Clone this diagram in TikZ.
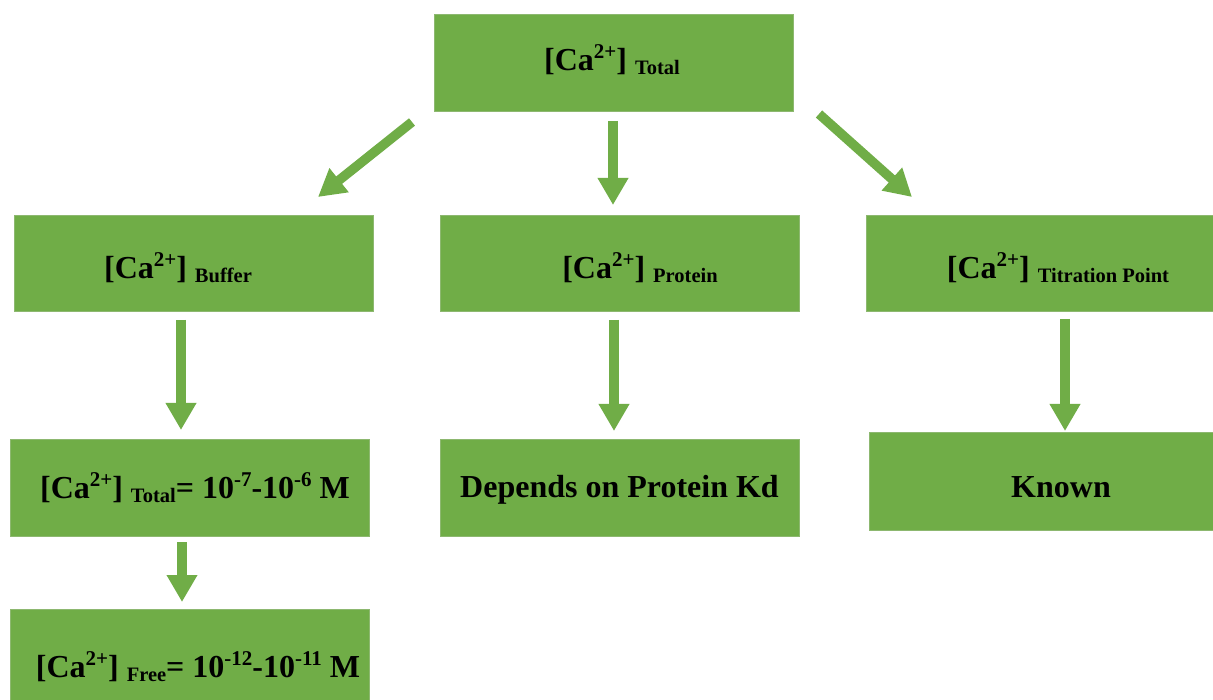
\documentclass[tikz,border=0pt]{standalone}
\usepackage{fontspec}
\setmainfont{Liberation Serif}
\usetikzlibrary{arrows.meta}
\definecolor{gfill}{HTML}{70AD47}
\definecolor{gline}{HTML}{8DB870}
\newcommand{\mysup}[1]{\raisebox{12pt}{\fontsize{21}{21}\selectfont #1}}
\newcommand{\mysub}[1]{\raisebox{-4pt}{\fontsize{20.5}{21}\selectfont #1}}
\newcommand{\caion}{[Ca\mysup{2+}]}
\begin{document}
\begin{tikzpicture}[x=1pt,y=-1pt,
  box/.style={draw=gline, line width=1pt, fill=gfill, inner sep=0pt, minimum width=359pt, minimum height=97pt},
  txt/.style={anchor=base, inner sep=0pt, font=\fontsize{32}{38}\selectfont\bfseries},
  arr/.style={draw=gfill, line width=9.5pt, -{Triangle[width=29pt,length=27pt]}}]
\clip (0,0) rectangle (1213,700);
\fill[white] (0,0) rectangle (1213,700);
% boxes
\node[box] (top)   at (613.5,63.5) {};
\node[box, minimum height=96pt] (buf)   at (194,264) {};
\node[box, minimum height=96pt] (prot)  at (619.5,264) {};
\node[box, minimum height=96pt] (titr)  at (1045.5,264) {};
\node[box] (tot)   at (189.5,487.5) {};
\node[box] (free)  at (189.5,657.5) {};
\node[box] (dep)   at (619.5,487.5) {};
\node[box] (known) at (1048.5,481.5) {};
% texts
\node[txt] (topt)   at (612,71)   {\caion\ \mysub{Total}};
\node[txt] (buft)   at (178,279)  {\caion\ \mysub{Buffer}};
\node[txt] (prott)  at (640,279)  {\caion\ \mysub{Protein}};
\node[txt] (titrt)  at (1058,279) {\caion\ \mysub{Titration Point}};
\node[txt] (tott)   at (195,498)  {\caion\ \mysub{Total}= 10\mysup{-7}-10\mysup{-6} M};
\node[txt] (freet)  at (198,677)  {\caion\ \mysub{Free}= 10\mysup{-12}-10\mysup{-11} M};
\node[txt] (dept)   at (619.5,497) {Depends on Protein Kd};
\node[txt] (knownt) at (1061,497) {Known};
% arrow end points
\coordinate (a1s) at (412,122); \coordinate (a1e) at (318,197);
\coordinate (a2s) at (613,121); \coordinate (a2e) at (613,205);
\coordinate (a3s) at (819,114); \coordinate (a3e) at (912,197);
\coordinate (a4s) at (181,320); \coordinate (a4e) at (181,430);
\coordinate (a5s) at (614,320); \coordinate (a5e) at (614,431);
\coordinate (a6s) at (1065,319); \coordinate (a6e) at (1065,431);
\coordinate (a7s) at (182,542); \coordinate (a7e) at (182,602);
\draw[arr] (a1s) -- (a1e);
\draw[arr] (a2s) -- (a2e);
\draw[arr] (a3s) -- (a3e);
\draw[arr] (a4s) -- (a4e);
\draw[arr] (a5s) -- (a5e);
\draw[arr] (a6s) -- (a6e);
\draw[arr] (a7s) -- (a7e);
\end{tikzpicture}
\end{document}
